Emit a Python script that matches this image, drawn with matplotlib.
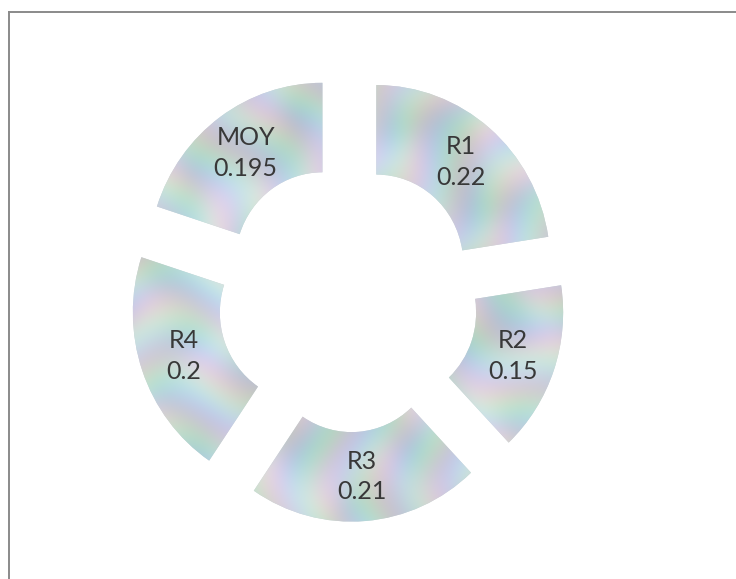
import numpy as np
import matplotlib.pyplot as plt
from matplotlib.lines import Line2D

# Doughnut data (clockwise from the top)
labels = ['R1', 'R2', 'R3', 'R4', 'MOY']
values = [0.22, 0.15, 0.21, 0.2, 0.195]

# Stripe direction of the pastel texture in each slice (style only)
tex_angles = [-40, 60, 0, 90, 30]

fig = plt.figure(figsize=(7.36, 5.79), dpi=100)
ax = fig.add_axes([0, 0, 1, 1])
ax.axis('off')

wedges, _ = ax.pie(values, radius=1.0, startangle=90, counterclock=False,
                   explode=[0.25] * len(values), colors=['#c8d4d8'] * len(values),
                   wedgeprops=dict(width=0.5, edgecolor='none', linewidth=0))

# Pastel "mother of pearl" fill, clipped to each slice
xlim = (-2.0, 2.23)
ylim = (-1.57, 1.665)
yy, xx = np.mgrid[ylim[1]:ylim[0]:500j, xlim[0]:xlim[1]:600j]


def texture(ang, phase):
    a = np.deg2rad(ang)
    u = xx * np.cos(a) + yy * np.sin(a)
    v = -xx * np.sin(a) + yy * np.cos(a)
    w = 20 * u + 1.8 * np.sin(7 * v + phase) + phase
    w2 = 11 * v + 1.2 * np.sin(9 * u - phase)
    shade = 0.03 * np.sin(w2) + 0.02 * np.sin(5 * v + 3 * u + phase)
    r = 0.78 + 0.040 * np.sin(w) + 0.02 * np.sin(w2 + 1.0) + shade
    g = 0.83 + 0.035 * np.sin(w + 2.1) + 0.015 * np.sin(w2 + 3.0) + shade
    b = 0.85 + 0.030 * np.sin(w + 4.2) + 0.015 * np.sin(w2 + 5.0) + shade
    return np.clip(np.dstack([r, g, b]), 0, 1)


for i, (wd, ang) in enumerate(zip(wedges, tex_angles)):
    im = ax.imshow(texture(ang, i * 1.3), extent=[xlim[0], xlim[1], ylim[0], ylim[1]],
                   aspect='auto', interpolation='bilinear', zorder=2)
    im.set_clip_path(wd)

# Slice labels: name and value, centred in the ring
for wd, lab, val in zip(wedges, labels, values):
    th = np.deg2rad((wd.theta1 + wd.theta2) / 2)
    cx, cy = wd.center
    rr = wd.r - wd.width / 2
    ax.text(cx + rr * np.cos(th), cy + rr * np.sin(th), f'{lab}\n{val:g}',
            ha='center', va='center', fontsize=18, family='Lato',
            color='#383838', linespacing=1.4, zorder=5)

ax.set_aspect('auto')
ax.set_xlim(*xlim)
ax.set_ylim(*ylim)

# Scanned chart frame (top and left edges)
fig.add_artist(Line2D([9 / 736, 1], [1 - 12 / 579] * 2, transform=fig.transFigure,
                      color='#8a8a8a', lw=1.4))
fig.add_artist(Line2D([9 / 736] * 2, [0, 1 - 12 / 579], transform=fig.transFigure,
                      color='#8a8a8a', lw=1.4))

fig.savefig('out.png', dpi=100, facecolor='white')
